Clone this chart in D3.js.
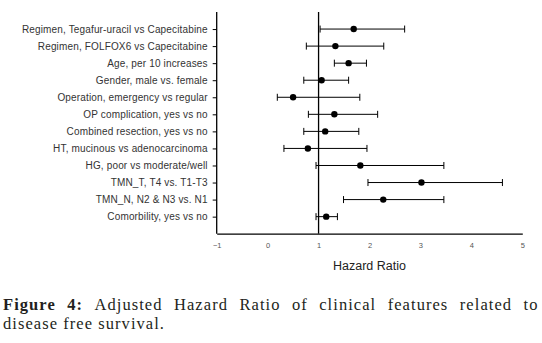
<!DOCTYPE html>
<html><head><meta charset="utf-8">
<script src="https://cdn.jsdelivr.net/npm/d3@7"></script>
<style>body{margin:0;background:#fff}svg{display:block}</style>
</head><body>
<svg id="c" width="542" height="343"></svg>
<script>
const labels = [
  "Regimen, Tegafur-uracil vs Capecitabine",
  "Regimen, FOLFOX6 vs Capecitabine",
  "Age, per 10 increases",
  "Gender, male vs. female",
  "Operation, emergency vs regular",
  "OP complication, yes vs no",
  "Combined resection, yes vs no",
  "HT, mucinous vs adenocarcinoma",
  "HG, poor vs moderate/well",
  "TMN_T, T4 vs. T1-T3",
  "TMN_N, N2 & N3 vs. N1",
  "Comorbility, yes vs no"
];
const hr    = [1.69, 1.33, 1.59, 1.06, 0.50, 1.31, 1.13, 0.79, 1.82, 3.02, 2.27, 1.15];
const lower = [1.03, 0.76, 1.31, 0.71, 0.19, 0.80, 0.71, 0.32, 0.95, 1.97, 1.49, 0.95];
const upper = [2.69, 2.28, 1.94, 1.59, 1.81, 2.16, 1.79, 1.95, 3.46, 4.61, 3.46, 1.37];
const xTicks = [-1, 0, 1, 2, 3, 4, 5];
const refValue = 1;
const xTitle = "Hazard Ratio";
const captionBold = "Figure 4:";
const captionLine1 = "Adjusted Hazard Ratio of clinical features related to";
const captionLine2 = "disease free survival.";

(function () {
const svg = d3.select("#c");
const pL = 216.7, pR = 522.3, pT = 12, pB = 233.7;

const x = d3.scaleLinear().domain([-1, 5]).range([pL, pR]);
const y = d3.scalePoint().domain(labels).range([pT, pB]).padding(1);

// x axis
const xa = svg.append("g").attr("transform", `translate(0,${pB})`)
  .call(d3.axisBottom(x).tickValues(xTicks).tickSize(0).tickPadding(9).tickFormat(d3.format("d")));
xa.select(".domain").attr("stroke", "#000").attr("stroke-width", 1.3);
xa.selectAll("text").attr("font-family", "Arial, Liberation Sans, sans-serif").attr("font-size", 7.5).attr("fill", "#555");

// y axis
const ya = svg.append("g").attr("transform", `translate(${pL},0)`)
  .call(d3.axisLeft(y).tickSizeOuter(0).tickSizeInner(4).tickPadding(5));
ya.select(".domain").attr("stroke", "#000").attr("stroke-width", 1.3)
  .attr("d", `M0,${pT}V${pB}`);
ya.selectAll(".tick line").attr("stroke", "#000");
ya.selectAll("text").attr("font-family", "Arial, Liberation Sans, sans-serif").attr("font-size", 10)
  .attr("letter-spacing", 0.15).attr("fill", "#333");

// reference line
svg.append("line").attr("x1", x(refValue)).attr("x2", x(refValue))
  .attr("y1", pT).attr("y2", pB).attr("stroke", "#000").attr("stroke-width", 1.3);

// error bars
const g = svg.append("g");
labels.forEach((l, i) => {
  const cy = y(l);
  g.append("line").attr("x1", x(lower[i])).attr("x2", x(upper[i])).attr("y1", cy).attr("y2", cy)
    .attr("stroke", "#000").attr("stroke-width", 1);
  [lower[i], upper[i]].forEach(v => {
    g.append("line").attr("x1", x(v)).attr("x2", x(v)).attr("y1", cy - 3.5).attr("y2", cy + 3.5)
      .attr("stroke", "#000").attr("stroke-width", 1);
  });
  g.append("circle").attr("cx", x(hr[i])).attr("cy", cy).attr("r", 3.2).attr("fill", "#000");
});

// x title
svg.append("text").attr("x", (pL + pR) / 2).attr("y", 269.5).attr("text-anchor", "middle")
  .attr("font-family", "Arial, Liberation Sans, sans-serif").attr("font-size", 12.5).attr("fill", "#222")
  .text(xTitle);

// caption
const capFont = "Liberation Serif, Times New Roman, serif";
const cap = svg.append("g").attr("font-family", capFont).attr("font-size", 16.5).attr("fill", "#231f20");
const capLeft = 3, capRight = 538.5;
const l2 = cap.append("text").attr("x", capLeft).attr("y", 328.5).text(captionLine2);
const w2 = l2.node().getComputedTextLength();
const ls = Math.max(0, (161 - w2) / (captionLine2.length - 1));
l2.attr("letter-spacing", ls);
const words = captionBold.split(" ").concat(captionLine1.split(" "));
const nodes = words.map((w, i) => cap.append("text").attr("y", 310).attr("letter-spacing", ls)
  .attr("font-weight", i < 2 ? "bold" : "normal").text(w));
const widths = nodes.map(n => n.node().getComputedTextLength());
const gap = (capRight - capLeft - d3.sum(widths)) / (words.length - 1);
let cx = capLeft;
nodes.forEach((n, i) => { n.attr("x", cx); cx += widths[i] + gap; });
})();
</script>
</body></html>
